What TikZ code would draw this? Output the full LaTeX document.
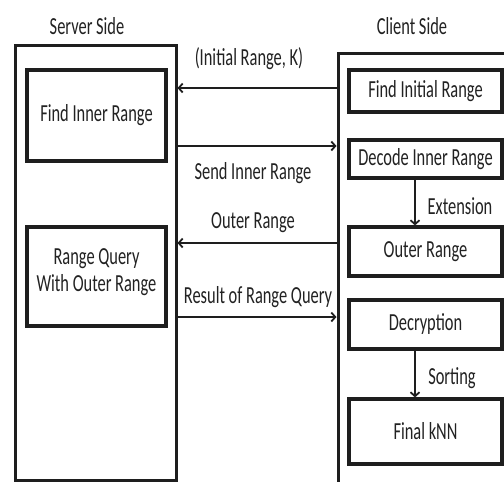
\documentclass[tikz,border=0pt]{standalone}
\usepackage{fontspec}
\setmainfont{Carlito}[FakeStretch=0.67]
\usetikzlibrary{arrows.meta}
\definecolor{ink}{HTML}{1E1E1E}
\definecolor{txt}{HTML}{222222}
\begin{document}
\begin{tikzpicture}[x=1pt,y=-1pt,
  every node/.style={font=\fontsize{24.5}{27}\selectfont, text=txt},
  outerbox/.style={draw=ink, line width=3pt, rectangle, inner sep=0pt},
  innerbox/.style={draw=ink, line width=3.2pt, rectangle, inner sep=0pt, align=center},
  plain/.style={inner sep=0pt},
  thickarrow/.style={draw=ink, line width=2.5pt, -{Straight Barb[length=4pt,width=9pt,line width=1.8pt]}},
  thinarrow/.style={draw=ink, line width=1.5pt, -{Straight Barb[length=4pt,width=9pt,line width=1.8pt]}},
  downarrow/.style={draw=ink, line width=2pt, -{Straight Barb[length=4pt,width=9pt,line width=1.8pt]}}
]
\useasboundingbox (0,0) rectangle (504,482);
\clip (0,0) rectangle (504,482);
\fill[white] (0,0) rectangle (504,482);

% titles
\node[plain] (stitle) at (87,26) {Server Side};
\node[plain] (ctitle) at (412,26) {Client Side};

% server side
\node[outerbox, minimum width=161pt, minimum height=435pt] (srv) at (95.5,262.5) {};
\node[innerbox, minimum width=139pt, minimum height=91pt] (fir) at (96.5,115.5) {Find Inner Range};
\node[innerbox, minimum width=139pt, minimum height=99pt] (rq) at (96.5,276.5) {};
\node[plain, align=center] (rqt) at (96.5,272) {Range Query\\With Outer Range};

% client side
\node[outerbox, minimum width=180pt, minimum height=445pt] (cli) at (428,275.5) {};
\node[innerbox, minimum width=153pt, minimum height=42pt] (fini) at (425.5,91) {Find Initial Range};
\node[innerbox, minimum width=153pt, minimum height=38pt] (dec) at (425.5,159) {Decode Inner Range};
\node[innerbox, minimum width=153pt, minimum height=49pt] (outr) at (425.5,251.5) {Outer Range};
\node[innerbox, minimum width=153pt, minimum height=49pt] (decr) at (425.5,324.5) {Decryption};
\node[innerbox, minimum width=153pt, minimum height=65pt] (knn) at (425.5,431.5) {Final kNN};

% messages
\draw[thickarrow] (cli.west |- 0,88) -- (srv.east |- 0,88);
\node[plain] (l1) at (249,59) {(Initial Range, K)};
\draw[thinarrow] (srv.east |- 0,146) -- (cli.west |- 0,146);
\node[plain] (l2) at (253,173) {Send Inner Range};
\draw[thickarrow] (cli.west |- 0,243) -- (srv.east |- 0,243);
\node[plain] (l3) at (253,223) {Outer Range};
\draw[thinarrow] (srv.east |- 0,317) -- (cli.west |- 0,317);
\node[plain] (l4) at (258,297) {Result of Range Query};

% client internal steps
\draw[downarrow] (dec.south -| 415,0) -- (outr.north -| 415,0);
\node[plain] (l5) at (460,206) {Extension};
\draw[downarrow] (decr.south -| 415,0) -- (knn.north -| 415,0);
\node[plain] (l6) at (452,378) {Sorting};
\end{tikzpicture}
\end{document}
